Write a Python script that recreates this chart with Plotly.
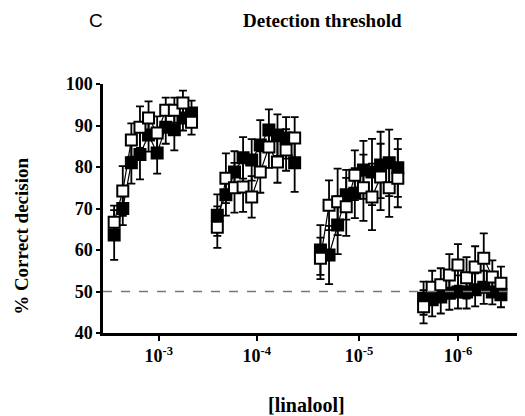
import plotly.graph_objects as go

# four concentrations, ten successive trials each
conc_labels = ["10<sup>-3</sup>", "10<sup>-4</sup>", "10<sup>-5</sup>", "10<sup>-6</sup>"]
trials = list(range(10))

# filled squares (group A) - % correct per trial, one list per concentration
filled_1e3 = [63.6, 70.0, 81.0, 83.0, 87.7, 83.4, 89.6, 89.0, 91.8, 93.0]
filled_1e4 = [68.4, 73.3, 78.8, 82.2, 81.7, 85.3, 88.9, 87.7, 87.0, 81.0]
filled_1e5 = [60.0, 58.8, 66.0, 73.3, 73.7, 79.3, 78.8, 80.5, 81.0, 79.8]
filled_1e6 = [48.4, 48.0, 48.7, 49.6, 49.9, 49.9, 50.4, 51.0, 49.9, 49.2]
filled_err_1e3 = [6, 4, 5, 6, 4, 5, 4, 5, 3, 3]
filled_err_1e4 = [5, 5, 5, 5, 5, 6, 5, 5, 5, 7]
filled_err_1e5 = [6, 7, 7, 6, 6, 7, 8, 8, 8, 7]
filled_err_1e6 = [4, 4, 4, 4, 4, 4, 4, 4, 3, 3]

# open squares (group B)
open_1e3 = [66.7, 74.2, 86.5, 89.6, 91.8, 88.2, 93.7, 93.7, 95.4, 90.8]
open_1e4 = [65.5, 77.3, 75.0, 75.2, 72.8, 78.8, 84.8, 81.2, 84.1, 87.0]
open_1e5 = [58.0, 70.8, 71.6, 70.4, 78.0, 75.0, 72.8, 77.6, 75.0, 77.3]
open_1e6 = [46.3, 51.0, 51.6, 54.0, 56.4, 53.3, 55.9, 58.0, 53.5, 52.0]
open_err_1e3 = [4, 6, 4, 5, 4, 4, 3, 3, 3, 3]
open_err_1e4 = [5, 6, 6, 6, 5, 5, 5, 5, 5, 5]
open_err_1e5 = [5, 6, 8, 7, 6, 8, 8, 8, 7, 7]
open_err_1e6 = [4, 4, 4, 5, 5, 5, 5, 6, 4, 4]

chance = 50

filled = [filled_1e3, filled_1e4, filled_1e5, filled_1e6]
filled_err = [filled_err_1e3, filled_err_1e4, filled_err_1e5, filled_err_1e6]
opened = [open_1e3, open_1e4, open_1e5, open_1e6]
open_err = [open_err_1e3, open_err_1e4, open_err_1e5, open_err_1e6]

# each concentration block occupies 12 slots on the x axis (10 trials + gap)
block = 12
tick_pos = [5.2, 16.6, 28.5, 40.0]

fig = go.Figure()

def add_series(values, errs, fill):
    for g, (ys, es) in enumerate(zip(values, errs)):
        xs = [g * block + t for t in trials]
        fig.add_trace(go.Scatter(
            x=xs, y=ys, mode="lines+markers",
            line=dict(color="black", width=1.2),
            marker=dict(symbol="square", size=11, color=fill,
                        line=dict(color="black", width=2)),
            error_y=dict(type="data", array=es, color="black",
                         thickness=1.8, width=4),
            showlegend=False, hoverinfo="skip"))

add_series(filled, filled_err, "black")
add_series(opened, open_err, "white")

fig.add_shape(type="line", xref="paper", x0=0, x1=1, yref="y", y0=chance, y1=chance,
              line=dict(color="#777777", width=1.5, dash="dash"))

serif = "Liberation Serif"
# page body has an 8px margin, so the figure is 8px smaller and margins trimmed
fig.update_layout(
    width=517, height=408,
    margin=dict(l=95, r=0, t=76, b=83),
    plot_bgcolor="white", paper_bgcolor="white",
    font=dict(family=serif, color="black"),
    xaxis=dict(range=[-1.3, 47.8], showgrid=False, zeroline=False,
               showline=True, linecolor="black", linewidth=2.5,
               tickvals=tick_pos, ticktext=["<b>%s</b>" % c for c in conc_labels],
               ticks="outside", ticklen=5, tickwidth=2, tickcolor="black",
               tickfont=dict(family=serif, size=18)),
    yaxis=dict(range=[40, 100], showgrid=False, zeroline=False,
               showline=True, linecolor="black", linewidth=2.5,
               tickvals=[40, 50, 60, 70, 80, 90, 100],
               ticktext=["<b>%d</b>" % v for v in [40, 50, 60, 70, 80, 90, 100]],
               ticks="outside", ticklen=4, tickwidth=2, tickcolor="black",
               tickfont=dict(family=serif, size=18)),
    annotations=[
        dict(text="<b>Detection threshold</b>", xref="paper", yref="paper",
             x=0.521, y=1.255, xanchor="center", yanchor="middle",
             showarrow=False, font=dict(family=serif, size=19)),
        dict(text="C", xref="paper", yref="paper", x=-0.017, y=1.255,
             xanchor="center", yanchor="middle",
             showarrow=False, font=dict(family="Liberation Sans", size=19)),
        dict(text="<b>% Correct decision</b>", xref="paper", yref="paper",
             x=-0.192, y=0.39, xanchor="center", yanchor="middle", textangle=-90,
             showarrow=False, font=dict(family=serif, size=19)),
        dict(text="<b>[linalool]</b>", xref="paper", yref="paper",
             x=0.483, y=-0.289, xanchor="center", yanchor="middle",
             showarrow=False, font=dict(family=serif, size=20)),
    ],
)

fig.write_html("out.html")
